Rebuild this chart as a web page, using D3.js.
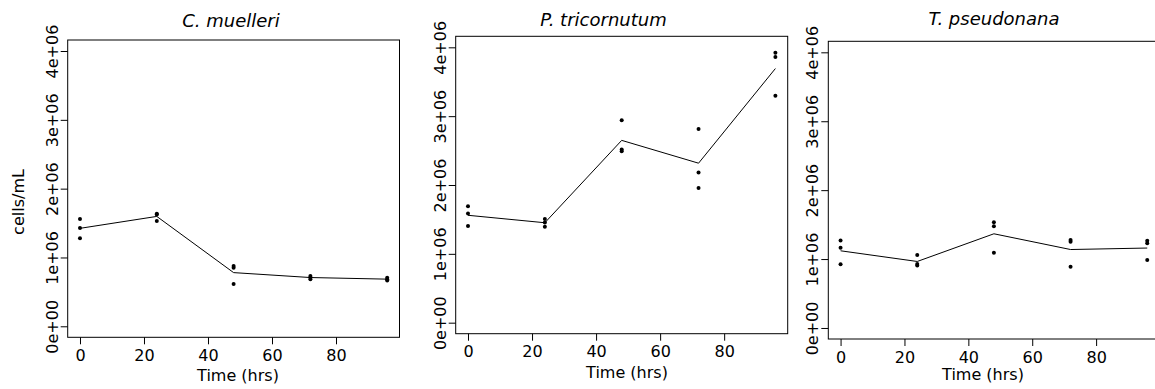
<!DOCTYPE html>
<html>
<head>
<meta charset="utf-8">
<script src="https://cdn.jsdelivr.net/npm/d3@7"></script>
<style>
  body { margin: 0; background: #fff; }
  svg { display: block; font-family: "DejaVu Sans", Verdana, sans-serif; }
</style>
</head>
<body>
<svg width="1155" height="389"></svg>
<script>
// sampling times (hrs)
const hours = [0, 24, 48, 72, 96];

const speciesNames = ["C. muelleri", "P. tricornutum", "T. pseudonana"];

// replicate cell counts (cells/mL) per time point
const muelleriCounts = [
  [1.56e6, 1.43e6, 1.28e6],
  [1.635e6, 1.625e6, 1.53e6],
  [0.875e6, 0.85e6, 0.615e6],
  [0.73e6, 0.71e6, 0.685e6],
  [0.705e6, 0.685e6, 0.665e6]
];
const tricornutumCounts = [
  [1.69e6, 1.585e6, 1.405e6],
  [1.505e6, 1.455e6, 1.395e6],
  [2.94e6, 2.515e6, 2.49e6],
  [2.815e6, 2.18e6, 1.955e6],
  [3.92e6, 3.86e6, 3.295e6]
];
const pseudonanaCounts = [
  [1.27e6, 1.165e6, 0.925e6],
  [1.06e6, 0.93e6, 0.905e6],
  [1.535e6, 1.475e6, 1.09e6],
  [1.275e6, 1.25e6, 0.89e6],
  [1.265e6, 1.23e6, 0.985e6]
];

const xTicks = [0, 20, 40, 60, 80];
const yTicks = [0, 1e6, 2e6, 3e6, 4e6];
const yTickLabels = ["0e+00", "1e+06", "2e+06", "3e+06", "4e+06"];

const xLabel = "Time (hrs)";
const yLabel = "cells/mL";

// panel boxes (each panel was a separate R plot)
const panels = [
  { counts: muelleriCounts, left: 67.7, right: 399.5, top: 40, bottom: 337.3,
    titleX: 231, titleY: 27, xlabX: 238, xlabY: 381, ylab: true },
  { counts: tricornutumCounts, left: 455.7, right: 787.7, top: 36.3, bottom: 333.7,
    titleX: 603.5, titleY: 26, xlabX: 627, xlabY: 377.5, ylab: false },
  { counts: pseudonanaCounts, left: 828.3, right: 1159.5, top: 41.3, bottom: 339,
    titleX: 994, titleY: 25, xlabX: 983, xlabY: 380, ylab: false }
];

const svg = d3.select("svg");

panels.forEach((p, i) => {
  // R style 4% padding on both axes
  const x = d3.scaleLinear().domain([-3.84, 99.84]).range([p.left, p.right]);
  const y = d3.scaleLinear().domain([-160000, 4160000]).range([p.bottom, p.top]);

  const g = svg.append("g").attr("class", "panel");

  // y axis
  const yAxis = g.append("g")
    .attr("transform", `translate(${p.left},0)`)
    .call(d3.axisLeft(y).tickValues(yTicks).tickSize(7).tickSizeOuter(0)
      .tickFormat((d, j) => yTickLabels[j]));
  yAxis.attr("font-size", 16).attr("font-family", null);
  yAxis.select(".domain").remove();
  yAxis.selectAll(".tick text")
    .attr("fill", "#000")
    .attr("transform", "rotate(-90)")
    .attr("text-anchor", "middle")
    .attr("x", 0)
    .attr("y", -10)
    .attr("dy", 0);

  // x axis
  const xAxis = g.append("g")
    .attr("transform", `translate(0,${p.bottom})`)
    .call(d3.axisBottom(x).tickValues(xTicks).tickSize(7).tickSizeOuter(0));
  xAxis.attr("font-size", 16).attr("font-family", null);
  xAxis.select(".domain").remove();
  xAxis.selectAll(".tick text").attr("fill", "#000").attr("y", 23.5).attr("dy", 0);

  // box
  g.append("rect")
    .attr("x", p.left).attr("y", p.top)
    .attr("width", p.right - p.left).attr("height", p.bottom - p.top)
    .attr("fill", "none").attr("stroke", "#000").attr("stroke-width", 1);

  // mean line
  const means = p.counts.map((reps, j) => ({ t: hours[j], v: d3.mean(reps) }));
  g.append("path")
    .datum(means)
    .attr("fill", "none")
    .attr("stroke", "#000")
    .attr("stroke-width", 1)
    .attr("d", d3.line().x(d => x(d.t)).y(d => y(d.v)));

  // replicate points
  const pts = p.counts.flatMap((reps, j) => reps.map(v => ({ t: hours[j], v })));
  g.append("g").selectAll("circle")
    .data(pts)
    .enter()
    .append("circle")
    .attr("cx", d => x(d.t))
    .attr("cy", d => y(d.v))
    .attr("r", 2)
    .attr("fill", "#000");

  // titles
  g.append("text")
    .attr("x", p.titleX).attr("y", p.titleY)
    .attr("text-anchor", "middle")
    .style("font-size", "18px")
    .style("font-style", "italic")
    .text(speciesNames[i]);

  g.append("text")
    .attr("x", p.xlabX).attr("y", p.xlabY)
    .attr("text-anchor", "middle")
    .style("font-size", "16px")
    .text(xLabel);

  if (p.ylab) {
    g.append("text")
      .attr("transform", `translate(24,${202}) rotate(-90)`)
      .attr("text-anchor", "middle")
      .style("font-size", "16px")
      .text(yLabel);
  }
});
</script>
</body>
</html>
